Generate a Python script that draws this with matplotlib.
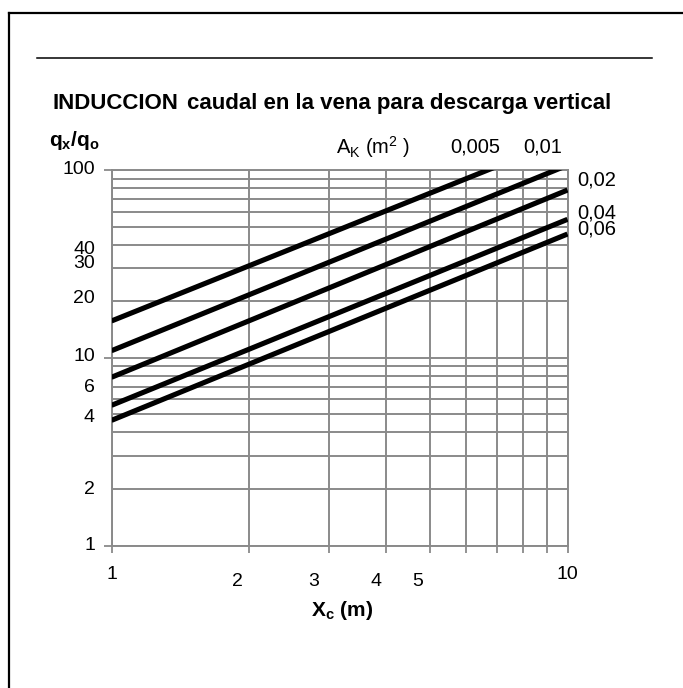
import numpy as np
import matplotlib
matplotlib.use('Agg')
import matplotlib.pyplot as plt
from matplotlib.lines import Line2D

plt.rcParams['font.family'] = ['Liberation Sans', 'DejaVu Sans']
plt.rcParams['mathtext.fontset'] = 'custom'
plt.rcParams['mathtext.rm'] = 'Liberation Sans'
plt.rcParams['mathtext.bf'] = 'Liberation Sans:bold'
plt.rcParams['mathtext.it'] = 'Liberation Sans:italic'

# data (q_x/q_o at X_c = 1 m and X_c = 10 m)
ak_labels = ['0,005', '0,01', '0,02', '0,04', '0,06']
x_ends = [1, 10]
q_at_1 = [15.7, 10.9, 7.87, 5.58, 4.64]
q_at_10 = [148.0, 106.0, 78.2, 54.6, 45.6]

x_tick_values = [1, 2, 3, 4, 5, 10]
y_tick_values = [100, 40, 30, 20, 10, 6, 4, 2, 1]

W, H = 683, 688
GRID = '#8a8a8a'


def fx(px):
    return px / W


def fy(py):
    return 1 - py / H


fig = plt.figure(figsize=(W / 100, H / 100), dpi=100)
ax = fig.add_axes([fx(111.5), fy(545.5), (567.5 - 111.5) / W, (545.5 - 170) / H])

ax.set_xscale('log')
ax.set_yscale('log')
ax.set_xlim(1, 10)
ax.set_ylim(1, 100)

# grid: every integer in each decade
ax.set_xticks(np.arange(1, 11), minor=False)
ax.set_xticks([], minor=True)
ax.set_xticklabels([])
ax.set_yticks([1, 10, 100])
ax.set_yticks([v * d for d in (1, 10) for v in range(2, 10)], minor=True)
ax.set_yticklabels([])
ax.set_yticklabels([], minor=True)
ax.tick_params(axis='x', which='major', length=5, width=1.3, color=GRID, direction='out')
ax.tick_params(axis='y', which='major', length=6, width=1.3, color=GRID, direction='out')
ax.tick_params(axis='y', which='minor', length=0)
ax.grid(True, which='both', color=GRID, linewidth=1.4)
for s in ax.spines.values():
    s.set_color(GRID)
    s.set_linewidth(1.4)

for q1, q10 in zip(q_at_1, q_at_10):
    ax.plot(x_ends, [q1, q10], color='black', lw=3.7, solid_capstyle='butt', zorder=3)

# axis labels (positions follow the original drawing, which is a bit irregular)
y_shift_px = [0, 5, -5, -3, -1, -12, -14.5, 0.5, 0]
for v, dy in zip(y_tick_values, y_shift_px):
    ax.annotate(str(v), xy=(0, v), xycoords=('axes fraction', 'data'),
                xytext=(-16.5 * 0.72, -dy * 0.72), textcoords='offset points',
                ha='right', va='center', fontsize=14)

x_shift_px = [(0, 29), (-11.5, 36), (-15, 36), (-10.5, 36), (-12.5, 36), (0, 29)]
for v, (dx, dy) in zip(x_tick_values, x_shift_px):
    ax.annotate(str(v), xy=(v, 0), xycoords=('data', 'axes fraction'),
                xytext=(dx * 0.72, -dy * 0.72), textcoords='offset points',
                ha='center', va='center', fontsize=14)

# labels for the curves
fig.text(fx(475), fy(147), ak_labels[0], ha='center', va='center', fontsize=14.5)
fig.text(fx(543), fy(147), ak_labels[1], ha='center', va='center', fontsize=14.5)
right_dy = [-10, -6, -5]
for lbl, q10, dy in zip(ak_labels[2:], q_at_10[2:], right_dy):
    ax.annotate(lbl, xy=(10, q10), xycoords='data',
                xytext=(7, -dy * 0.72), textcoords='offset points',
                ha='left', va='center', fontsize=14.5)

fig.text(fx(336), fy(147), r'A$_\mathregular{K}$ (m$^\mathregular{2}$ )',
         ha='left', va='center', fontsize=14.5)

# title and axis titles
fig.text(fx(53), fy(109), 'INDUCCION', ha='left', va='baseline',
         fontsize=16, fontweight='bold')
fig.text(fx(187), fy(109), 'caudal en la vena para descarga vertical',
         ha='left', va='baseline', fontsize=16, fontweight='bold')
fig.text(fx(49), fy(146), r'$\mathbf{q_x/q_o}$', ha='left', va='baseline',
         fontsize=15)
fig.text(fx(342), fy(610), r'$\mathbf{X_c}$ $\mathbf{(m)}$', ha='center', va='center',
         fontsize=15)

# frame and rule at the top
fig.add_artist(Line2D([fx(9), fx(9)], [fy(13), -0.01], color='black', lw=1.6))
fig.add_artist(Line2D([fx(9), 1.01], [fy(13), fy(13)], color='black', lw=1.6))
fig.add_artist(Line2D([fx(37), fx(652)], [fy(58), fy(58)], color='black', lw=1.1))

fig.savefig('out.png', dpi=100)
